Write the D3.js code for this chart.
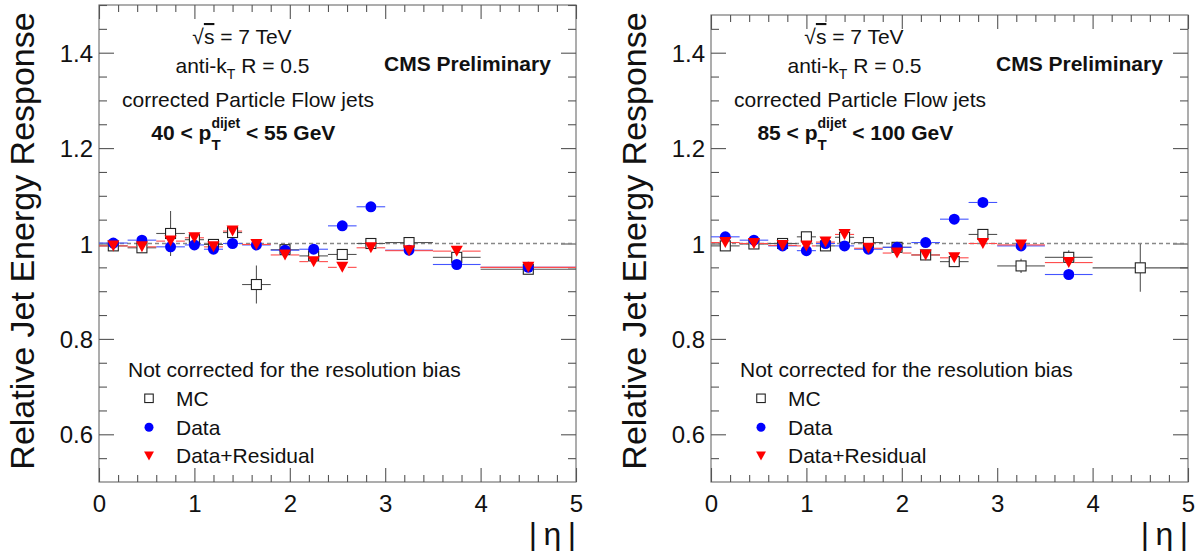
<!DOCTYPE html>
<html><head><meta charset="utf-8">
<script src="https://cdn.jsdelivr.net/npm/d3@7"></script>
<style>
body{margin:0;background:#fff;}
svg{display:block;font-family:"Liberation Sans",Arial,sans-serif;}
</style>
</head><body>
<svg id="c" width="1202" height="551"></svg>
<script>
// ---- data ----
const etaEdges   = [0,0.3,0.6,0.9,1.1,1.3,1.5,1.8,2.1,2.4,2.7,3.0,3.5,4.0,5.0];
const etaCenters = [0.15,0.45,0.75,1.0,1.2,1.4,1.65,1.95,2.25,2.55,2.85,3.25,3.75,4.5];
const xTicks = [0,1,2,3,4,5];
const yTicks = [0.6,0.8,1.0,1.2,1.4];
const yTickLabels = ["0.6","0.8","1","1.2","1.4"];

// panel 1 : 40 < pT < 55 GeV
const mcLow      = [0.995,0.991,1.021,1.008,0.998,1.023,0.914,0.987,0.974,0.977,1.000,1.002,0.971,0.946];
const mcLowErr   = [0.004,0.005,0.047,0.006,0.005,0.006,0.040,0.006,0.006,0.006,0.006,0.007,0.008,0.006];
const dataLow    = [1.001,1.007,0.993,0.997,0.988,1.000,0.997,0.986,0.988,1.037,1.077,0.986,0.956,0.950];
const dataLowErr = [0.003,0.003,0.003,0.004,0.004,0.004,0.004,0.004,0.004,0.004,0.005,0.005,0.006,0.006];
const resLow     = [0.995,0.993,1.005,1.012,0.993,1.026,0.998,0.976,0.962,0.950,0.991,0.985,0.984,0.950];
const resLowErr  = [0.003,0.003,0.003,0.004,0.004,0.004,0.004,0.004,0.004,0.004,0.005,0.005,0.006,0.006];

// panel 2 : 85 < pT < 100 GeV
const mcHigh      = [0.995,0.999,1.000,1.014,0.995,1.013,1.002,0.992,0.976,0.962,1.019,0.953,0.971,0.949];
const mcHighErr   = [0.004,0.004,0.004,0.005,0.005,0.005,0.005,0.005,0.006,0.006,0.010,0.015,0.015,0.050];
const dataHigh    = [1.014,1.007,0.995,0.985,1.000,0.995,0.988,0.992,1.002,1.051,1.086,0.995,0.935,null];
const dataHighErr = [0.003,0.003,0.003,0.003,0.003,0.003,0.003,0.004,0.004,0.004,0.005,0.005,0.010,null];
const resHigh     = [1.002,1.000,0.996,0.995,1.003,1.019,0.990,0.980,0.976,0.970,1.000,0.997,0.960,null];
const resHighErr  = [0.003,0.003,0.003,0.003,0.003,0.003,0.003,0.004,0.004,0.004,0.005,0.005,0.010,null];

const legendLabels = ["MC","Data","Data+Residual"];
const ptLabels = [["40","55"],["85","100"]];

// ---- drawing ----
const svg = d3.select("#c");
const FONT = 21;

function drawMarker(g, kind, cx, cy, s) {
  if (kind === "mc") {
    g.append("rect").attr("x", cx - s/2).attr("y", cy - s/2).attr("width", s).attr("height", s)
      .attr("fill", "#fff").attr("stroke", "#222").attr("stroke-width", 1.1);
  } else if (kind === "data") {
    g.append("circle").attr("cx", cx).attr("cy", cy).attr("r", s/2).attr("fill", "#0000ff");
  } else {
    const w = s * 1.1, h = s;
    g.append("path").attr("d", `M${cx - w/2},${cy - h/2}L${cx + w/2},${cy - h/2}L${cx},${cy + h/2}Z`)
      .attr("fill", "#ff0000");
  }
}

function panel(ox, frameTop, series, ptLab) {
  const x = d3.scaleLinear().domain([0,5]).range([99 + ox, 576 + ox]);
  const y = d3.scaleLinear().domain([0.5,1.5]).range([482, 5]);
  const yTopVal = y.invert(frameTop);
  const g = svg.append("g");
  const clipId = "clip" + ox;
  g.append("clipPath").attr("id", clipId).append("rect")
    .attr("x", x(0)).attr("y", frameTop).attr("width", x(5) - x(0)).attr("height", 482 - frameTop);

  // frame
  g.append("rect").attr("x", x(0)).attr("y", frameTop).attr("width", x(5) - x(0)).attr("height", 482 - frameTop)
    .attr("fill", "none").attr("stroke", "#777").attr("stroke-width", 1.2);

  const yMinor = d3.range(0.55, 1.5001, 0.05).map(v => +v.toFixed(2))
    .filter(v => !yTicks.some(t => Math.abs(t - v) < 1e-6) && v <= yTopVal + 1e-6);
  const xMinor = d3.range(0.2, 5, 0.2).map(v => +v.toFixed(1))
    .filter(v => !xTicks.some(t => Math.abs(t - v) < 1e-6));

  function styleAxis(sel) {
    sel.select(".domain").remove();
    sel.selectAll(".tick line").attr("stroke", "#555").attr("stroke-width", 1.1);
    sel.selectAll("text").attr("fill", "#111").attr("font-family", '"Liberation Sans",Arial,sans-serif');
  }
  // left
  g.append("g").attr("transform", `translate(${x(0)},0)`)
    .call(d3.axisLeft(y).tickValues(yTicks).tickSize(-15).tickPadding(6)
      .tickFormat((d, i) => yTickLabels[i]))
    .call(styleAxis)
    .call(s => s.selectAll("text").attr("font-size", 24).attr("dy", "0.36em"));
  g.append("g").attr("transform", `translate(${x(0)},0)`)
    .call(d3.axisLeft(y).tickValues(yMinor).tickSize(-8).tickFormat(""))
    .call(styleAxis);
  // right
  g.append("g").attr("transform", `translate(${x(5)},0)`)
    .call(d3.axisRight(y).tickValues(yTicks).tickSize(-15).tickFormat(""))
    .call(styleAxis);
  g.append("g").attr("transform", `translate(${x(5)},0)`)
    .call(d3.axisRight(y).tickValues(yMinor).tickSize(-8).tickFormat(""))
    .call(styleAxis);
  // bottom
  g.append("g").attr("transform", `translate(0,482)`)
    .call(d3.axisBottom(x).tickValues(xTicks).tickSize(-14).tickPadding(8).tickFormat(d3.format("d")))
    .call(styleAxis)
    .call(s => s.selectAll("text").attr("font-size", 24).attr("dy", "0.9em"));
  g.append("g").attr("transform", `translate(0,482)`)
    .call(d3.axisBottom(x).tickValues(xMinor).tickSize(-7).tickFormat(""))
    .call(styleAxis);
  // top
  g.append("g").attr("transform", `translate(0,${frameTop})`)
    .call(d3.axisTop(x).tickValues(xTicks).tickSize(-14).tickFormat(""))
    .call(styleAxis);
  g.append("g").attr("transform", `translate(0,${frameTop})`)
    .call(d3.axisTop(x).tickValues(xMinor).tickSize(-7).tickFormat(""))
    .call(styleAxis);

  // reference line at 1
  g.append("line").attr("x1", x(0)).attr("x2", x(5)).attr("y1", y(1)).attr("y2", y(1))
    .attr("stroke", "#888").attr("stroke-width", 1.3).attr("stroke-dasharray", "4,3");

  // points
  const pg = g.append("g").attr("clip-path", `url(#${clipId})`);
  const barColor = {mc: "#555", data: "#4455ff", res: "#ff4a4a"};
  const mSize = {mc: 10, data: 11, res: 11};
  series.forEach(sr => {
    const bg = pg.append("g");
    sr.vals.forEach((v, i) => {
      if (v === null) return;
      const cx = x(etaCenters[i]), cy = y(v);
      const half = mSize[sr.kind] / 2;
      const x0 = x(etaEdges[i]), x1 = x(etaEdges[i + 1]);
      const eT = y(v + sr.errs[i]), eB = y(v - sr.errs[i]);
      const segs = [];
      if (cx - half > x0) segs.push([x0, cy, cx - half, cy]);
      if (x1 > cx + half) segs.push([cx + half, cy, x1, cy]);
      if (cy - half > eT) segs.push([cx, eT, cx, cy - half]);
      if (eB > cy + half) segs.push([cx, cy + half, cx, eB]);
      segs.forEach(s => bg.append("line").attr("x1", s[0]).attr("y1", s[1]).attr("x2", s[2]).attr("y2", s[3])
        .attr("stroke", barColor[sr.kind]).attr("stroke-width", 1.1));
    });
    sr.vals.forEach((v, i) => {
      if (v === null) return;
      drawMarker(bg, sr.kind, x(etaCenters[i]), y(v), mSize[sr.kind]);
    });
  });

  // axis titles
  svg.append("text").attr("transform", `translate(${34 + ox},241) rotate(-90)`)
    .attr("text-anchor", "middle").attr("font-size", 34).attr("fill", "#111")
    .text("Relative Jet Energy Response");
  svg.append("text").attr("x", 576 + ox).attr("y", 545).attr("text-anchor", "end")
    .attr("font-size", 32).attr("fill", "#111").text("|\u2009\u03b7\u2009|");

  // annotations
  const t1 = svg.append("text").attr("x", 242 + ox).attr("y", 44).attr("text-anchor", "middle")
    .attr("font-size", FONT).attr("fill", "#111");
  t1.append("tspan").text("\u221a");
  t1.append("tspan").attr("text-decoration", "overline").text("s");
  t1.append("tspan").text(" = 7 TeV");

  const t2 = svg.append("text").attr("x", 242.5 + ox).attr("y", 73.3).attr("text-anchor", "middle")
    .attr("font-size", FONT).attr("fill", "#111");
  t2.append("tspan").text("anti-k");
  t2.append("tspan").attr("font-size", 14).attr("dy", 6).text("T");
  t2.append("tspan").attr("dy", -6).text(" R = 0.5");

  svg.append("text").attr("x", 384 + ox).attr("y", 70.7).attr("font-size", FONT)
    .attr("font-weight", "bold").attr("fill", "#111").text("CMS Preliminary");

  svg.append("text").attr("x", 248 + ox).attr("y", 107.3).attr("text-anchor", "middle")
    .attr("font-size", FONT).attr("fill", "#111").text("corrected Particle Flow jets");

  const t4 = svg.append("text").attr("x", 243.3 + ox).attr("y", 140).attr("text-anchor", "middle")
    .attr("font-size", FONT).attr("font-weight", "bold").attr("fill", "#111");
  t4.append("tspan").text(ptLab[0] + " < p");
  const sub = t4.append("tspan").attr("font-size", 15).attr("dy", 10).text("T");
  const sup = t4.append("tspan").attr("font-size", 14).attr("dy", -22).text("dijet");
  t4.append("tspan").attr("dy", 12).text(" < " + ptLab[1] + " GeV");
  const wT = sub.node().getComputedTextLength();
  sup.attr("dx", -wT);

  // legend
  svg.append("text").attr("x", 128 + ox).attr("y", 376.7).attr("font-size", FONT).attr("fill", "#111")
    .text("Not corrected for the resolution bias");
  const lg = svg.append("g");
  const kinds = ["mc", "data", "res"];
  const ly = [398.3, 427.3, 456];
  kinds.forEach((k, i) => {
    drawMarker(lg, k, 149 + ox, ly[i], k === "mc" ? 8.5 : 9);
    lg.append("text").attr("x", 176 + ox).attr("y", ly[i] + 7.2).attr("font-size", FONT).attr("fill", "#111")
      .text(legendLabels[i]);
  });
}

panel(0, 5, [
  {kind: "mc", vals: mcLow, errs: mcLowErr},
  {kind: "data", vals: dataLow, errs: dataLowErr},
  {kind: "res", vals: resLow, errs: resLowErr}
], ptLabels[0]);
panel(612, 15, [
  {kind: "mc", vals: mcHigh, errs: mcHighErr},
  {kind: "data", vals: dataHigh, errs: dataHighErr},
  {kind: "res", vals: resHigh, errs: resHighErr}
], ptLabels[1]);
</script>
</body></html>
